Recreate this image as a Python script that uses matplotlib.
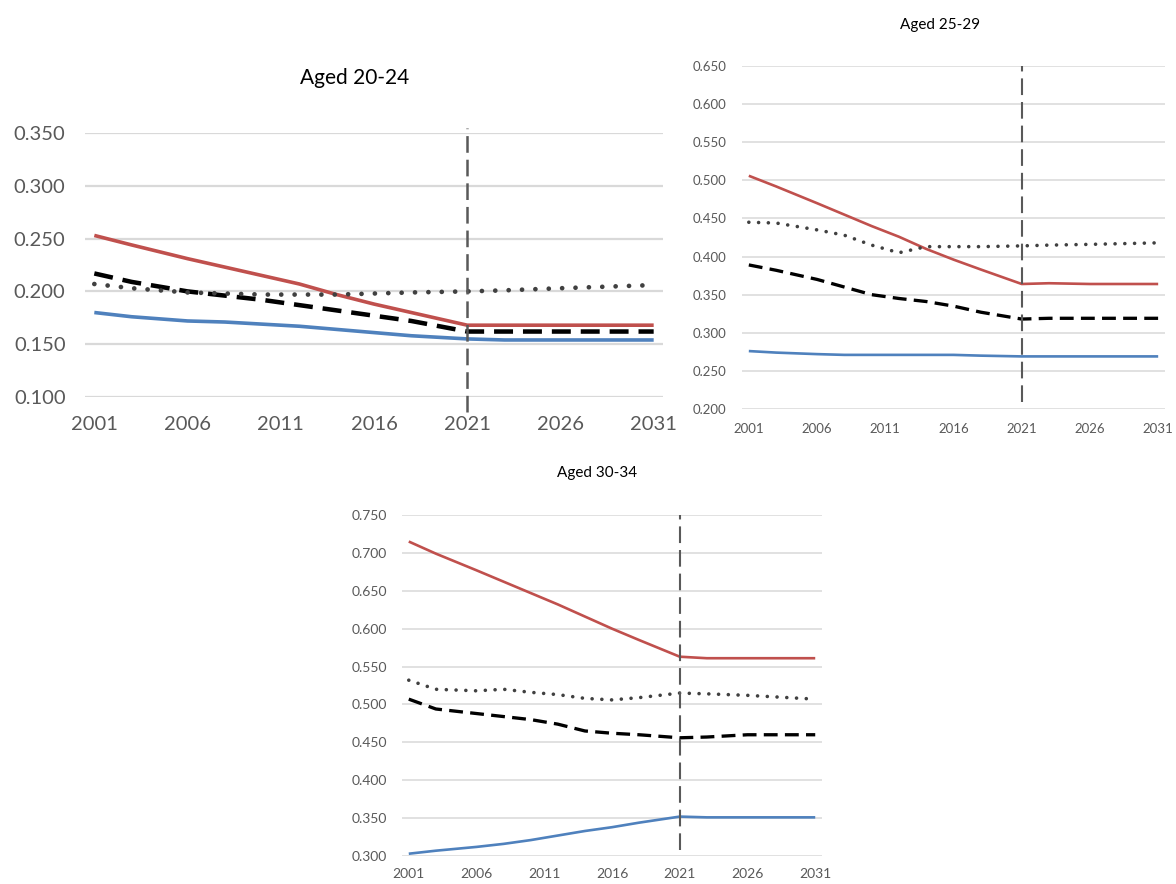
import matplotlib.pyplot as plt

plt.rcParams['font.family'] = ['Lato', 'DejaVu Sans']

# Data
years = [2001, 2003, 2006, 2008, 2010, 2012, 2014, 2016, 2018, 2021, 2023, 2026, 2031]
xticks = [2001, 2006, 2011, 2016, 2021, 2026, 2031]
split_year = 2021

red_20_24 = [0.253, 0.244, 0.231, 0.223, 0.215, 0.207, 0.197, 0.188, 0.180, 0.168, 0.168, 0.168, 0.168]
blue_20_24 = [0.180, 0.176, 0.172, 0.171, 0.169, 0.167, 0.164, 0.161, 0.158, 0.155, 0.154, 0.154, 0.154]
dash_20_24 = [0.217, 0.209, 0.200, 0.196, 0.192, 0.187, 0.182, 0.177, 0.172, 0.162, 0.162, 0.162, 0.162]
dot_20_24 = [0.207, 0.203, 0.199, 0.198, 0.197, 0.197, 0.197, 0.198, 0.199, 0.200, 0.201, 0.203, 0.206]

red_25_29 = [0.506, 0.492, 0.470, 0.455, 0.440, 0.426, 0.410, 0.396, 0.383, 0.364, 0.365, 0.364, 0.364]
blue_25_29 = [0.276, 0.274, 0.272, 0.271, 0.271, 0.271, 0.271, 0.271, 0.270, 0.269, 0.269, 0.269, 0.269]
dash_25_29 = [0.389, 0.382, 0.370, 0.360, 0.350, 0.345, 0.341, 0.335, 0.327, 0.318, 0.319, 0.319, 0.319]
dot_25_29 = [0.445, 0.444, 0.435, 0.428, 0.415, 0.405, 0.413, 0.413, 0.413, 0.414, 0.415, 0.416, 0.418]

red_30_34 = [0.715, 0.699, 0.677, 0.662, 0.647, 0.632, 0.616, 0.600, 0.585, 0.563, 0.561, 0.561, 0.561]
blue_30_34 = [0.303, 0.307, 0.312, 0.316, 0.321, 0.327, 0.333, 0.338, 0.344, 0.352, 0.351, 0.351, 0.351]
dash_30_34 = [0.507, 0.494, 0.488, 0.484, 0.480, 0.474, 0.465, 0.462, 0.460, 0.456, 0.457, 0.460, 0.460]
dot_30_34 = [0.532, 0.520, 0.518, 0.520, 0.516, 0.513, 0.508, 0.506, 0.509, 0.515, 0.514, 0.512, 0.507]

RED = '#c0504d'
BLUE = '#4f81bd'
GREY_TXT = '#595959'

fig = plt.figure(figsize=(11.76, 8.84), dpi=100)


def panel(rect, title, title_xy, title_size, ylims, yticks, series,
          lab_size, lw, dot_lw, dot_step, grid_lw, pad_y, pad_x, vspan, vlw):
    ax = fig.add_axes(rect)
    red, blue, dash, dot = series
    ax.plot(years, red, color=RED, lw=lw, solid_capstyle='butt', zorder=3)
    ax.plot(years, blue, color=BLUE, lw=lw, solid_capstyle='butt', zorder=3)
    ax.plot(years, dash, color='black', lw=lw * 1.25, linestyle=(0, (4.2, 2.2)), zorder=3)
    # dot_step is the dot spacing in points
    ax.plot(years, dot, color='#404040', lw=dot_lw, linestyle=(0, (0.01, dot_step / dot_lw)),
            dash_capstyle='round', zorder=3)
    ax.axvline(split_year, ymin=vspan[0], ymax=vspan[1], color='#595959',
               lw=vlw, linestyle=(0, (12 / vlw, 5 / vlw)), clip_on=False, zorder=4)
    ax.set_xlim(2000.5, 2031.5)
    ax.set_ylim(*ylims)
    ax.set_yticks(yticks)
    ax.set_yticklabels([f'{v:.3f}' for v in yticks])
    ax.set_xticks(xticks)
    ax.grid(True, axis='y', color='#d9d9d9', lw=grid_lw)
    ax.set_axisbelow(True)
    for s in ax.spines.values():
        s.set_visible(False)
    ax.tick_params(axis='both', length=0, labelcolor=GREY_TXT, labelsize=lab_size)
    ax.tick_params(axis='y', pad=pad_y)
    ax.tick_params(axis='x', pad=pad_x)
    fig.text(title_xy[0] / 1176, 1 - title_xy[1] / 884, title, ha='center',
             va='center', fontsize=title_size, color='black')
    return ax


panel([85 / 1176, 1 - 397 / 884, 578 / 1176, 264 / 884], 'Aged 20-24', (355, 78), 15,
      (0.1, 0.35), [0.1, 0.15, 0.2, 0.25, 0.3, 0.35],
      (red_20_24, blue_20_24, dash_20_24, dot_20_24),
      14.5, 2.6, 3.4, 9.6, 1.6, 14, 14, (-0.057, 1.02), 1.8)

panel([742 / 1176, 1 - 409 / 884, 423 / 1176, 343 / 884], 'Aged 25-29', (940, 25), 11,
      (0.2, 0.65), [0.2, 0.25, 0.3, 0.35, 0.4, 0.45, 0.5, 0.55, 0.6, 0.65],
      (red_25_29, blue_25_29, dash_25_29, dot_25_29),
      9.5, 1.9, 2.6, 7.0, 1.1, 11, 10, (0.02, 1.0), 1.5)

panel([402 / 1176, 1 - 856 / 884, 420 / 1176, 341 / 884], 'Aged 30-34', (597, 473), 11,
      (0.3, 0.75), [0.3, 0.35, 0.4, 0.45, 0.5, 0.55, 0.6, 0.65, 0.7, 0.75],
      (red_30_34, blue_30_34, dash_30_34, dot_30_34),
      10, 1.9, 2.6, 7.0, 1.1, 11, 9, (0.018, 1.0), 1.5)

fig.savefig('out.png', dpi=100)
